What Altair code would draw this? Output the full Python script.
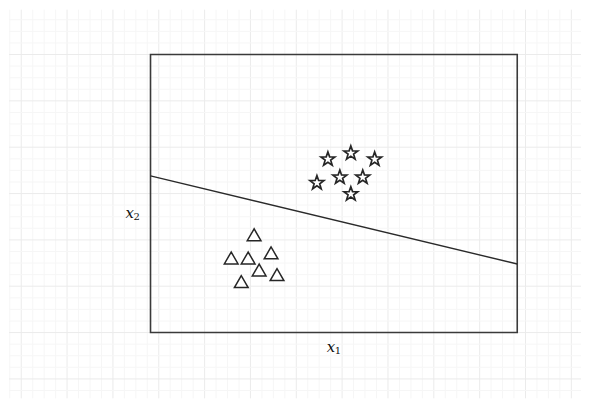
import altair as alt
import pandas as pd
import numpy as np

# Data (in plot units: box spans x 0..8, y 0..6)
star_x = [3.87, 4.37, 4.89, 3.63, 4.13, 4.63, 4.37]
star_y = [3.74, 3.87, 3.74, 3.23, 3.35, 3.35, 2.99]
tri_x = [2.26, 1.76, 2.13, 2.63, 2.37, 2.76, 1.98]
tri_y = [2.11, 1.61, 1.61, 1.72, 1.35, 1.25, 1.10]
line_x = [0, 8]
line_y = [3.38, 1.48]
box_x = [0, 8]
box_y = [0, 6]

X_DOM = [-3.087, 9.391]
Y_DOM = [-1.419, 6.968]

xs = alt.Scale(domain=X_DOM, nice=False, zero=False)
ys = alt.Scale(domain=Y_DOM, nice=False, zero=False)

# graph-paper background
vx = np.arange(-3.07, 9.4, 0.25)
hy = np.arange(-1.25, 7.0, 0.25)
grid_v = pd.DataFrame({"x": vx, "major": [abs((v - 0.18) - round(v - 0.18)) < 1e-6 for v in vx]})
grid_h = pd.DataFrame({"y": hy, "major": [abs(v - round(v)) < 1e-6 for v in hy]})

gcol = alt.Color("major:N", scale=alt.Scale(domain=[False, True], range=["#f6f6f6", "#ebebeb"]), legend=None)

gv = alt.Chart(grid_v).mark_rule(strokeWidth=1).encode(
    x=alt.X("x:Q", scale=xs, axis=None), color=gcol
)
gh = alt.Chart(grid_h).mark_rule(strokeWidth=1).encode(
    y=alt.Y("y:Q", scale=ys, axis=None), color=gcol
)

box = alt.Chart(pd.DataFrame({"x": [box_x[0]], "x2": [box_x[1]], "y": [box_y[0]], "y2": [box_y[1]]})).mark_rect(
    fill=None, fillOpacity=0, stroke="#3a3a3a", strokeWidth=1.6
).encode(
    x=alt.X("x:Q", scale=xs, axis=None), x2="x2:Q",
    y=alt.Y("y:Q", scale=ys, axis=None), y2="y2:Q",
)

line = alt.Chart(pd.DataFrame({"x": line_x, "y": line_y})).mark_line(
    color="#2a2a2a", strokeWidth=1.4
).encode(
    x=alt.X("x:Q", scale=xs, axis=None), y=alt.Y("y:Q", scale=ys, axis=None)
)

STAR = "M0,-1L0.235,-0.324L0.951,-0.309L0.38,0.124L0.588,0.809L0,0.4L-0.588,0.809L-0.38,0.124L-0.951,-0.309L-0.235,-0.324Z"

stars = alt.Chart(pd.DataFrame({"x": star_x, "y": star_y})).mark_point(
    shape=STAR, size=215, filled=False, stroke="#262626", strokeWidth=1.7, fill="white", fillOpacity=1, opacity=1
).encode(
    x=alt.X("x:Q", scale=xs, axis=None), y=alt.Y("y:Q", scale=ys, axis=None)
)

tris = alt.Chart(pd.DataFrame({"x": tri_x, "y": tri_y})).mark_point(
    shape="triangle-up", size=190, filled=False, stroke="#262626", strokeWidth=1.5, fill="white", fillOpacity=1, opacity=1
).encode(
    x=alt.X("x:Q", scale=xs, axis=None), y=alt.Y("y:Q", scale=ys, axis=None)
)

lab = pd.DataFrame({"x": [4.0, -0.39], "y": [-0.32, 2.58], "base": ["x", "x"], "sub": ["1", "2"]})
lab_main = alt.Chart(lab).mark_text(
    font="DejaVu Serif", fontStyle="italic", fontSize=15, color="#111111", dx=-3
).encode(
    x=alt.X("x:Q", scale=xs, axis=None), y=alt.Y("y:Q", scale=ys, axis=None), text="base:N"
)
lab_sub = alt.Chart(lab).mark_text(
    font="DejaVu Serif", fontSize=10, color="#111111", dx=4, dy=4
).encode(
    x=alt.X("x:Q", scale=xs, axis=None), y=alt.Y("y:Q", scale=ys, axis=None), text="sub:N"
)

chart = alt.layer(gv, gh, box, line, stars, tris, lab_main, lab_sub).properties(
    width=574, height=390, padding=0, background="white"
).configure_view(stroke=None)

chart.save("out.html", embed_options={"renderer": "svg", "actions": False})
